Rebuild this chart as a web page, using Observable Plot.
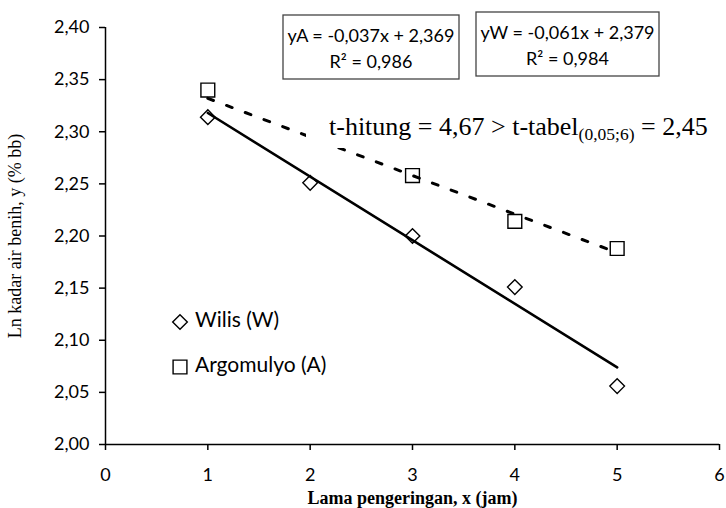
<!DOCTYPE html>
<html><head><meta charset="utf-8">
<script src="https://cdn.jsdelivr.net/npm/d3@7"></script>
<script src="https://cdn.jsdelivr.net/npm/@observablehq/plot@0.6"></script>
<style>body{margin:0;background:#fff} svg{display:block}</style>
</head><body><div id="chart"></div>
<script>
// ---- data ----
const hours = [1, 2, 3, 4, 5];
const wilis = [2.314, 2.251, 2.200, 2.151, 2.056];
const argoHours = [1, 3, 4, 5];
const argomulyo = [2.340, 2.258, 2.214, 2.188];
const trendHours = [1, 5];
const trendWilis = [2.318, 2.074];
const trendArgo = [2.332, 2.184];
const xTicks = [0, 1, 2, 3, 4, 5, 6];
const yTicks = [2.00, 2.05, 2.10, 2.15, 2.20, 2.25, 2.30, 2.35, 2.40];
const seriesNames = ["Wilis (W)", "Argomulyo (A)"];
const eqA = ["yA = -0,037x + 2,369", "R² = 0,986"];
const eqW = ["yW = -0,061x + 2,379", "R² = 0,984"];
const xTitle = "Lama pengeringan, x (jam)";
const yTitle = "Ln kadar air benih, y (% bb)";

const W = hours.map((h, i) => ({x: h, y: wilis[i]}));
const A = argoHours.map((h, i) => ({x: h, y: argomulyo[i]}));
const TW = trendHours.map((h, i) => ({x: h, y: trendWilis[i]}));
const TA = trendHours.map((h, i) => ({x: h, y: trendArgo[i]}));

const sans = "Lato, 'Open Sans', sans-serif";
const serif = "'Liberation Serif', 'DejaVu Serif', serif";
const comma = d => d3.format(".2f")(d).replace(".", ",");

const chart = Plot.plot({
  width: 726, height: 508,
  marginLeft: 105, marginRight: 7, marginTop: 27, marginBottom: 64,
  style: {fontFamily: sans, fontSize: "18px", color: "#000", background: "#fff", overflow: "visible"},
  x: {domain: [0, 6]},
  y: {domain: [2.0, 2.4]},
  marks: [
    Plot.axisX({ticks: xTicks, tickSize: 6, tickPadding: 18, tickFormat: d => String(d), label: null, strokeWidth: 1.5}),
    Plot.axisY({ticks: yTicks, tickSize: 6, tickPadding: 10, tickFormat: comma, label: null, strokeWidth: 1.5}),
    Plot.ruleY([2.0], {stroke: "#000", strokeWidth: 1.5}),
    Plot.ruleX([0], {stroke: "#000", strokeWidth: 1.5}),
    Plot.dot(W, {x: "x", y: "y", symbol: "diamond2", r: 6.6, stroke: "#000", strokeWidth: 1.4, fill: "#fff"}),
    Plot.dot(A, {x: "x", y: "y", symbol: "square2", r: 8.8, stroke: "#000", strokeWidth: 1.4, fill: "#fff"}),
    Plot.line(TW, {x: "x", y: "y", stroke: "#000", strokeWidth: 2.6}),
    Plot.line(TA, {x: "x", y: "y", stroke: "#000", strokeWidth: 3, strokeDasharray: "6,14"}),
    Plot.text([xTitle], {frameAnchor: "bottom", dy: 59, fontFamily: serif, fontWeight: "bold", fontSize: 18}),
    Plot.text([yTitle], {frameAnchor: "left", dx: -90, rotate: -90, textAnchor: "middle", fontFamily: serif, fontSize: 18})
  ]
});
document.getElementById("chart").appendChild(chart);

const svg = d3.select(chart);

// equation boxes
function eqBox(lines, x0, y0, w, h) {
  const g = svg.append("g");
  g.append("rect").attr("x", x0).attr("y", y0).attr("width", w).attr("height", h)
    .attr("fill", "#fff").attr("stroke", "#444").attr("stroke-width", 1.3);
  lines.forEach((t, i) => g.append("text").attr("x", x0 + w / 2).attr("y", y0 + 22 + i * 26)
    .attr("text-anchor", "middle").attr("dominant-baseline", "middle")
    .attr("font-family", sans).attr("font-size", 18).text(t));
}
eqBox(eqA, 283, 15, 176, 64);
eqBox(eqW, 476, 12, 183, 64);

// t-test annotation (white box hides part of dashed line)
const tg = svg.append("g");
tg.append("rect").attr("x", 306).attr("y", 106).attr("width", 420).attr("height", 42).attr("fill", "#fff");
const tt = tg.append("text").attr("x", 329).attr("y", 135).attr("text-anchor", "start")
  .attr("font-family", serif).attr("font-size", 26);
tt.append("tspan").text("t-hitung = 4,67 > t-tabel");
tt.append("tspan").attr("font-size", 17.5).attr("dy", 5).text("(0,05;6)");
tt.append("tspan").attr("dy", -5).text(" = 2,45");

// legend
const leg = svg.append("g");
const symbols = [d3.symbolDiamond2, d3.symbolSquare2];
const radii = [6.6, 8.8];
seriesNames.forEach((name, i) => {
  const ly = 322 + i * 45;
  leg.append("path").attr("transform", `translate(180,${ly})`)
    .attr("d", d3.symbol(symbols[i], Math.PI * radii[i] * radii[i])())
    .attr("fill", "#fff").attr("stroke", "#000").attr("stroke-width", 1.4);
  leg.append("text").attr("x", 195).attr("y", ly).attr("text-anchor", "start").attr("dominant-baseline", "middle")
    .attr("font-family", sans).attr("font-size", 21).text(name);
});
</script>
</body></html>
